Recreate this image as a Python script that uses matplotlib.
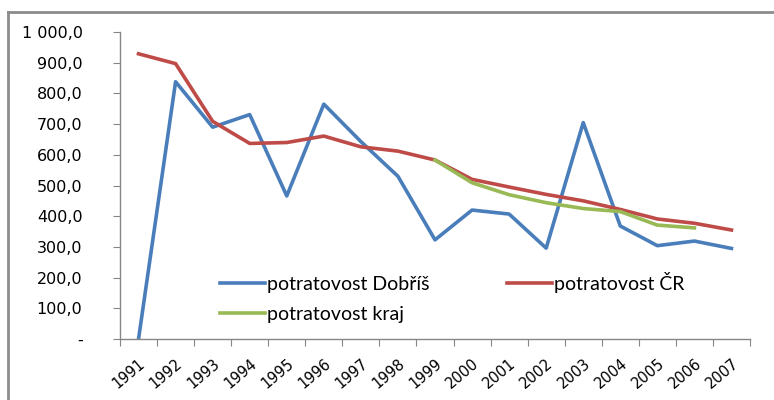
import matplotlib
matplotlib.use("Agg")
import matplotlib.pyplot as plt
from matplotlib.lines import Line2D
from matplotlib.ticker import FuncFormatter, FixedLocator
import numpy as np

years = ["1991", "1992", "1993", "1994", "1995", "1996", "1997", "1998", "1999",
         "2000", "2001", "2002", "2003", "2004", "2005", "2006", "2007"]
dobris = [0, 838, 690, 731, 466, 765, 643, 530, 323, 420, 407, 296, 705, 368, 304, 319, 295]
cr = [929, 897, 709, 637, 640, 661, 626, 612, 583, 520, 495, 471, 450, 422, 391, 377, 355]
kraj = [None, None, None, None, None, None, None, None, 583, 509, 470, 444, 425, 415, 371, 362, None]

W, H = 774, 400
fig = plt.figure(figsize=(W / 100, H / 100), dpi=100)
fig.patch.set_facecolor("white")

# outer chart frame (top and left visible)
fig.add_artist(Line2D([8 / W, 8 / W], [0, 1 - 12 / H], transform=fig.transFigure,
                      color="#8c8c8c", lw=2))
fig.add_artist(Line2D([8 / W, 1], [1 - 12 / H, 1 - 12 / H], transform=fig.transFigure,
                      color="#8c8c8c", lw=2))

ax = fig.add_axes([120 / W, (H - 339) / H, (750 - 120) / W, (339 - 32) / H])
x = np.arange(len(years))
kx = [i for i, v in enumerate(kraj) if v is not None]
kv = [v for v in kraj if v is not None]

lw = 2.6
l1, = ax.plot(x, dobris, color="#4A7EBB", lw=lw, solid_joinstyle="round", label="potratovost Dobříš")
l2, = ax.plot(x, cr, color="#BE4B48", lw=lw, solid_joinstyle="round", label="potratovost ČR")
l3, = ax.plot(kx, kv, color="#98B954", lw=lw, solid_joinstyle="round", label="potratovost kraj")

ax.set_xlim(-0.5, len(years) - 0.5)
ax.set_ylim(0, 1000)
ax.set_yticks(np.arange(0, 1001, 100))


def yfmt(v, pos):
    if v == 0:
        return "-"
    s = f"{v:,.1f}".replace(",", " ").replace(".", ",")
    return s


ax.yaxis.set_major_formatter(FuncFormatter(yfmt))
ax.xaxis.set_major_locator(FixedLocator(np.arange(-0.5, len(years), 1.0)))
ax.set_xticks(x, minor=True)
ax.set_xticklabels(years, minor=True, rotation=40, ha="right", va="top",
                   rotation_mode="anchor", family="DejaVu Sans", fontsize=10.5)
ax.tick_params(axis="x", which="major", length=5, color="#868686", labelbottom=False, direction="out")
ax.tick_params(axis="x", which="minor", length=0, pad=12)
ax.tick_params(axis="y", which="major", length=5, color="#868686", pad=22, labelsize=11.5)

for s in ["top", "right"]:
    ax.spines[s].set_visible(False)
for s in ["left", "bottom"]:
    ax.spines[s].set_color("#868686")
    ax.spines[s].set_linewidth(1)

leg = ax.legend(handles=[l1, l3, l2], ncol=2, frameon=False,
                loc="upper left", bbox_to_anchor=(220 / W, 1 - 272 / H),
                bbox_transform=fig.transFigure, borderpad=0, borderaxespad=0,
                handlelength=2.3, handletextpad=0.1, columnspacing=4.0,
                labelspacing=0.65, prop={"family": "Lato", "size": 14})

fig.savefig("out.png", dpi=100)
